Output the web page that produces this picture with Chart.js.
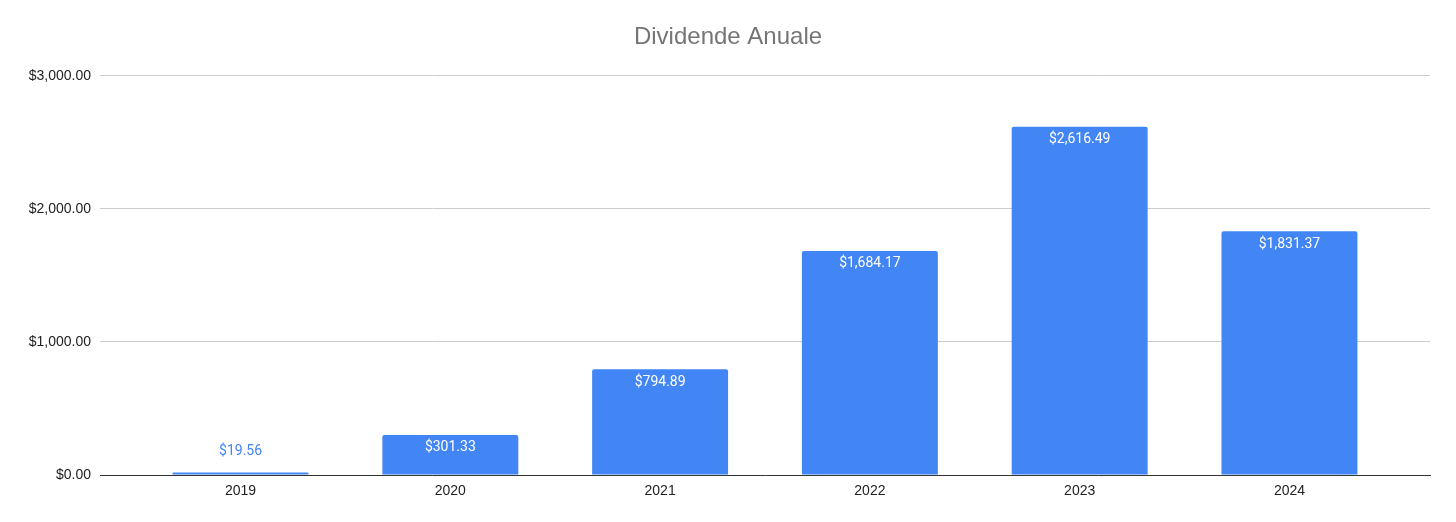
<!DOCTYPE html>
<html>
<head>
<meta charset="utf-8">
<script src="https://cdn.jsdelivr.net/npm/chart.js@4"></script>
<style>
  html, body { margin: 0; padding: 0; background: #fff; }
  #wrap { width: 1456px; height: 522px; }
</style>
</head>
<body>
<div id="wrap"><canvas id="grafico"></canvas></div>
<script>
// datos del grafico
const anios = ['2019', '2020', '2021', '2022', '2023', '2024'];
const dividendos = [19.56, 301.33, 794.89, 1684.17, 2616.49, 1831.37];
const ticksY = [0, 1000, 2000, 3000];

function formatoDolar(v) {
    return '$' + Number(v).toLocaleString('en-US', { minimumFractionDigits: 2, maximumFractionDigits: 2 });
}

// puntos {x: indice, y: valor} para un eje x lineal con margen a los lados
const puntos = dividendos.map((v, i) => ({ x: i, y: v }));

// etiquetas de valor sobre/dentro de las barras
const etiquetasPlugin = {
    id: 'etiquetas',
    afterDatasetsDraw(chart) {
        const ctx = chart.ctx;
        const meta = chart.getDatasetMeta(0);
        ctx.save();
        ctx.font = '14px Roboto, "Liberation Sans", Arial, sans-serif';
        ctx.textAlign = 'center';
        ctx.textBaseline = 'middle';
        meta.data.forEach((bar, i) => {
            const alto = bar.base - bar.y;
            if (alto > 30) {
                ctx.fillStyle = '#ffffff';
                ctx.fillText(formatoDolar(dividendos[i]), bar.x, bar.y + 13);
            } else {
                ctx.fillStyle = '#4285f4';
                ctx.fillText(formatoDolar(dividendos[i]), bar.x, bar.y - 21);
            }
        });
        ctx.restore();
    }
};

const ctx = document.getElementById('grafico').getContext('2d');

new Chart(ctx, {
    type: 'bar',
    data: {
        datasets: [{
            label: 'Dividende',
            data: puntos,
            backgroundColor: '#4285f4',
            borderRadius: { topLeft: 2, topRight: 2 },
            borderSkipped: 'bottom',
            categoryPercentage: 1,
            barPercentage: 0.648
        }]
    },
    options: {
        responsive: true,
        maintainAspectRatio: false,
        animation: false,
        layout: { padding: { left: 26, right: 26, top: 0, bottom: 0 } },
        plugins: {
            legend: { display: false },
            tooltip: { enabled: false },
            title: {
                display: true,
                text: 'Dividende Anuale',
                color: '#757575',
                font: { family: '"Liberation Sans", Arial, sans-serif', size: 24, weight: 'normal' },
                padding: { top: 23, bottom: 24 }
            }
        },
        scales: {
            x: {
                type: 'linear',
                offset: false,
                min: -0.67,
                max: 5.67,
                afterBuildTicks(scale) { scale.ticks = anios.map((a, i) => ({ value: i })); },
                grid: { display: false, drawTicks: false },
                border: { display: true, color: '#333333', width: 1 },
                ticks: {
                    color: '#222222',
                    padding: 8,
                    font: { family: '"Liberation Sans", Arial, sans-serif', size: 14 },
                    callback: v => anios[v]
                },
                afterFit(scale) { scale.height = 47; }
            },
            y: {
                min: 0,
                max: 3000,
                afterBuildTicks(scale) { scale.ticks = ticksY.map(v => ({ value: v })); },
                grid: { color: '#cccccc', drawTicks: false },
                border: { display: false },
                ticks: {
                    color: '#222222',
                    padding: 9,
                    font: { family: '"Liberation Sans", Arial, sans-serif', size: 14 },
                    callback: v => formatoDolar(v)
                },
                afterFit(scale) { scale.width = 74; }
            }
        }
    },
    plugins: [etiquetasPlugin]
});
</script>
</body>
</html>
